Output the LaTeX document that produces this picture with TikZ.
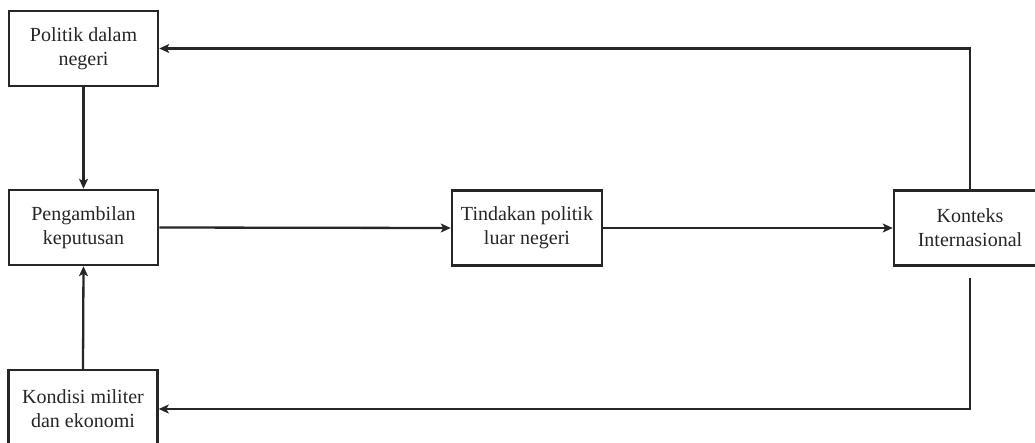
\documentclass[tikz,border=0pt]{standalone}
\usepackage{fontspec}
\setmainfont{Liberation Serif}
\usetikzlibrary{arrows.meta}
\begin{document}
\begin{tikzpicture}[x=1pt,y=-1pt,
  box/.style={draw=black!85, line width=2.5pt, fill=white, align=center,
    minimum width=149pt, minimum height=75pt, inner sep=0pt,
    font=\fontsize{20}{24}\selectfont, text=black!85},
  link/.style={draw=black!85, line width=2.3pt,
    -{Stealth[length=10pt,width=9pt,inset=2.5pt]}}]
\useasboundingbox (0,0) rectangle (1035,442);
\clip (0,0) rectangle (1035,442);

% boxes
\node[box] (pol)  at (83.5,48.5)  {Politik dalam\\negeri};
\node[box] (peng) at (83.5,227.5) {Pengambilan\\keputusan};
\node[box, minimum height=78pt] (kond) at (83,409) {Kondisi militer\\dan ekonomi};
\node[box, minimum width=150pt] (tind) at (527,228) {Tindakan politik\\luar negeri};
\node[box, minimum width=152pt] (kont) at (970,228) {Konteks\\Internasional};

% free end of the return line below the context box
\coordinate (ret) at (970,278);

% connectors
\draw[link] (kont.north) |- (pol.east);
\draw[link] (pol.south) -- (peng.north);
\draw[link] (kond.north) -- (peng.south);
\draw[link] (peng.east) -- (tind.west);
\draw[link] (tind.east) -- (kont.west);
\draw[link] (ret) |- (kond.east);
\end{tikzpicture}
\end{document}
